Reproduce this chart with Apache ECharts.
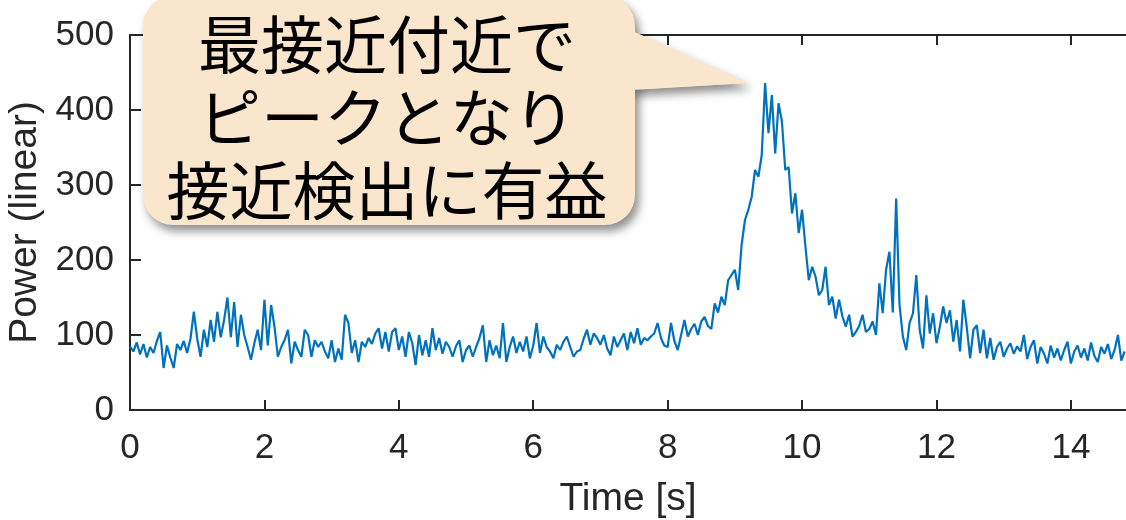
<!DOCTYPE html>
<html>
<head>
<meta charset="utf-8">
<script src="https://cdn.jsdelivr.net/npm/echarts@6/dist/echarts.min.js"></script>
<style>
  html, body { margin: 0; padding: 0; background: #fff; }
  #chart { width: 1126px; height: 520px; }
</style>
</head>
<body>
<div id="chart"></div>
<script>
// 采样间隔 (s)
var dt = 0.05;
// 0 - 7.95 s 背景噪声
var powerBase = [
  85, 78, 90, 74, 88, 70, 84, 76, 92, 104, 56, 86, 70, 56, 88, 80, 92, 76, 95, 131,
  95, 71, 107, 84, 120, 91, 131, 97, 120, 150, 97, 144, 84, 127, 100, 84, 67, 89, 107, 80,
  147, 86, 140, 111, 71, 84, 93, 107, 62, 91, 80, 71, 107, 100, 71, 93, 84, 91, 78, 69,
  93, 64, 82, 67, 127, 116, 76, 93, 64, 91, 84, 96, 88, 102, 109, 82, 104, 78, 104, 109,
  80, 98, 71, 104, 89, 60, 100, 73, 93, 71, 109, 80, 96, 75, 91, 84, 71, 85, 93, 64,
  80, 86, 71, 84, 96, 113, 64, 93, 73, 86, 69, 116, 64, 84, 98, 76, 91, 78, 98, 69,
  86, 116, 76, 98, 84, 78, 69, 87, 80, 91, 98, 84, 71, 78, 80, 95, 107, 87, 102, 96,
  87, 100, 82, 73, 98, 84, 93, 102, 80, 104, 89, 109, 87, 96, 93, 98, 102, 116, 96, 86
];
// 8.00 - 9.95 s 接近・ピーク
var powerRise = [
  84, 116, 92, 80, 100, 120, 98, 108, 115, 100, 118, 124, 112, 108, 142, 130, 151, 140, 173, 180,
  187, 160, 220, 253, 267, 284, 320, 311, 340, 436, 369, 420, 342, 409, 385, 320, 324, 262, 289, 236
];
// 10.00 - 14.80 s 離脱
var powerDecay = [
  267, 218, 173, 191, 178, 153, 160, 191, 140, 151, 122, 147, 125, 111, 127, 98, 104, 112, 127, 104,
  108, 118, 100, 169, 129, 187, 211, 130, 282, 140, 98, 80, 116, 129, 180, 107, 82, 153, 102, 129,
  89, 111, 138, 116, 133, 91, 120, 78, 147, 111, 69, 107, 113, 76, 107, 69, 96, 67, 84, 91,
  71, 82, 89, 75, 85, 78, 100, 68, 84, 93, 62, 84, 75, 62, 86, 70, 82, 66, 80, 91,
  62, 78, 86, 70, 82, 66, 90, 72, 64, 84, 75, 88, 68, 80, 100, 66, 78
];
var xTicks = [0, 2, 4, 6, 8, 10, 12, 14];
var xMax = 14.82;
var yTicks = [0, 100, 200, 300, 400, 500];
var calloutText = ['最接近付近で', 'ピークとなり', '接近検出に有益'];

var power = powerBase.concat(powerRise, powerDecay);
var seriesData = [];
for (var i = 0; i < power.length; i++) {
  seriesData.push([Math.round(i * dt * 100) / 100, power[i]]);
}

var axisColor = '#262626';
var labelFont = 'Liberation Sans, Arial, sans-serif';
var bubbleFill = '#FAE5CD';
var bubbleShadow = {
  shadowColor: 'rgba(0,0,0,0.45)',
  shadowBlur: 10,
  shadowOffsetX: 4,
  shadowOffsetY: 6
};
var tailPoints = [[630, 30], [748, 83], [630, 90]];

function makeXAxis(pos, withLabel) {
  return {
    type: 'value',
    position: pos,
    min: xTicks[0],
    max: xMax,
    interval: xTicks[1] - xTicks[0],
    axisLine: { show: true, onZero: false, lineStyle: { color: axisColor, width: 2 } },
    axisTick: {
      show: true, inside: true, length: 10, customValues: xTicks,
      lineStyle: { color: axisColor, width: 2 }
    },
    axisLabel: {
      show: withLabel, color: axisColor, fontSize: 35, fontFamily: labelFont,
      margin: 21, customValues: xTicks
    },
    splitLine: { show: false },
    name: withLabel ? 'Time [s]' : '',
    nameLocation: 'middle',
    nameGap: 70,
    nameTextStyle: { color: axisColor, fontSize: 39, fontFamily: labelFont }
  };
}

var myChart = echarts.init(document.getElementById('chart'));
var option = {
  animation: false,
  backgroundColor: '#ffffff',
  grid: {
    left: 130, right: 0, top: 35, bottom: 110,
    containLabel: false, outerBoundsMode: 'none'
  },
  xAxis: [makeXAxis('bottom', true), makeXAxis('top', false)],
  yAxis: {
    type: 'value',
    min: yTicks[0],
    max: yTicks[yTicks.length - 1],
    interval: yTicks[1] - yTicks[0],
    axisLine: { show: true, lineStyle: { color: axisColor, width: 2 } },
    axisTick: { show: true, inside: true, length: 11, lineStyle: { color: axisColor, width: 2 } },
    axisLabel: { color: axisColor, fontSize: 35, fontFamily: labelFont, margin: 16 },
    splitLine: { show: false },
    name: 'Power (linear)',
    nameLocation: 'middle',
    nameGap: 84,
    nameTextStyle: { color: axisColor, fontSize: 39, fontFamily: labelFont }
  },
  series: [{
    type: 'line',
    xAxisIndex: 0,
    data: seriesData,
    showSymbol: false,
    lineStyle: { color: '#0072BD', width: 2.2 },
    z: 3
  }],
  graphic: [{
    // 吹き出しの尻尾 (影付き)
    type: 'polygon',
    z: 100,
    shape: { points: tailPoints },
    style: Object.assign({ fill: bubbleFill }, bubbleShadow)
  }, {
    type: 'rect',
    z: 101,
    shape: { x: 143, y: -4, width: 492, height: 229, r: 30 },
    style: Object.assign({ fill: bubbleFill }, bubbleShadow)
  }, {
    // 影なしで重ねて継ぎ目を隠す
    type: 'polygon',
    z: 102,
    shape: { points: tailPoints },
    style: { fill: bubbleFill }
  }, {
    type: 'text',
    z: 103,
    x: 387,
    y: 117,
    style: {
      text: calloutText.join('\n'),
      fill: '#000000',
      fontSize: 63,
      lineHeight: 73,
      fontFamily: 'Noto Sans CJK JP',
      align: 'center',
      verticalAlign: 'middle'
    }
  }]
};
myChart.setOption(option);
</script>
</body>
</html>
